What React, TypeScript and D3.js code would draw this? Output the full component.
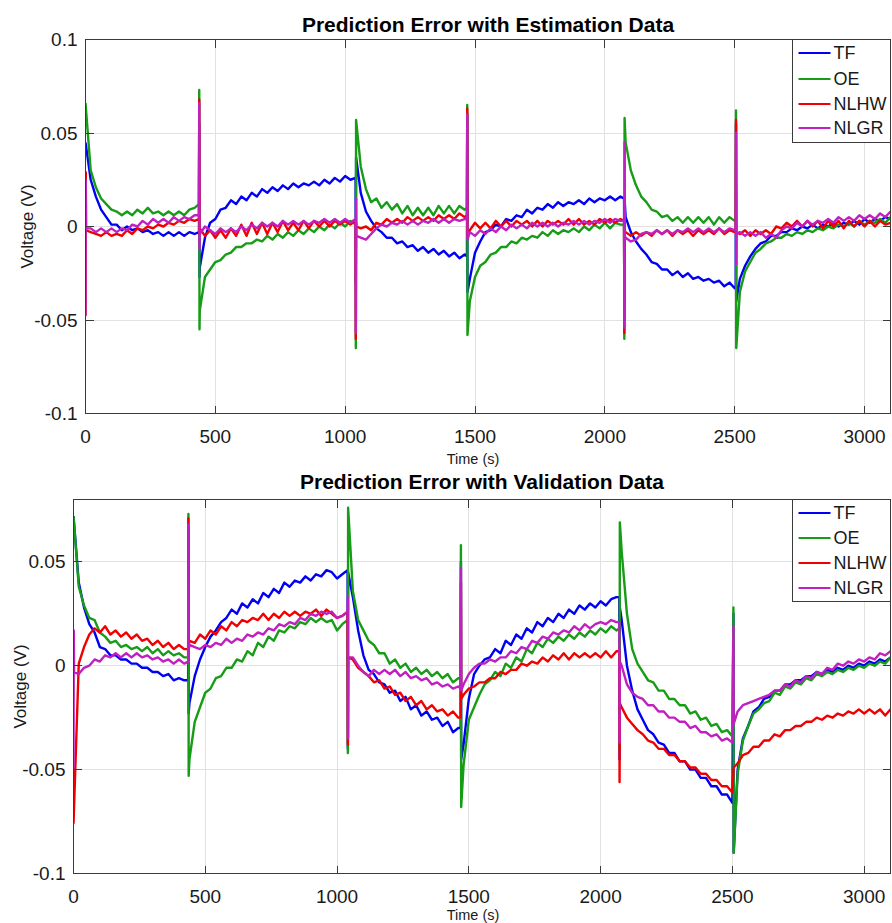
import React from "react";
import * as d3 from "d3";

const FONT = "'Liberation Sans', Arial, Helvetica, sans-serif";

// ---------- shared labels / ticks ----------
const seriesNames = ["TF", "OE", "NLHW", "NLGR"];
const seriesColors = ["#0000f5", "#169c16", "#f00000", "#c020c0"];
const xTicks = [0, 500, 1000, 1500, 2000, 2500, 3000];
const xDomain = [0, 3100];
const estYDomain = [-0.1, 0.1];
const estYTicks = [-0.1, -0.05, 0, 0.05, 0.1];
const estYTickLabels = ["-0.1", "-0.05", "0", "0.05", "0.1"];
const valYDomain = [-0.1, 0.08];
const valYTicks = [-0.1, -0.05, 0, 0.05];
const valYTickLabels = ["-0.1", "-0.05", "0", "0.05"];

// sampling step of the grid arrays below (seconds); values are in mV
const T_STEP = 20;

// ---------- Estimation data (mV, every 20 s from 0 to 3100) ----------
const estTF = [
  45, 25, 16, 9, 5, 1, 1, -2, 0, -2,
  -1, -3, -2, -4, -3, -5, -3, -5, -3, -5,
  -3, -4, -22, -6, 2, 4, 9, 10, 14, 12,
  16, 14, 18, 16, 20, 18, 21, 19, 22, 20,
  23, 21, 23, 22, 24, 22, 25, 23, 26, 24,
  27, 25, 26, 18, 8, 3, -1, -3, -6, -6,
  -9, -8, -11, -10, -13, -11, -14, -12, -15, -13,
  -16, -14, -17, -15, -28, -14, -8, -3, -2, 1,
  0, 4, 3, 6, 5, 9, 7, 10, 9, 12,
  10, 13, 11, 13, 12, 14, 12, 15, 13, 15,
  14, 16, 14, 16, 5, -3, -8, -12, -15, -19,
  -20, -23, -23, -26, -24, -27, -25, -28, -27, -29,
  -28, -30, -29, -32, -30, -33, -28, -21, -16, -12,
  -9, -8, -5, -5, -3, -3, -1, -2, 0, -1,
  1, -1, 1, 0, 2, 0, 2, 1, 3, 1,
  4, 2, 4, 3, 5, 4,
];
const estOE = [
  66, 30, 21, 15, 12, 9, 8, 6, 8, 6,
  9, 7, 10, 7, 8, 6, 8, 6, 8, 6,
  9, 10, -45, -27, -23, -19, -18, -15, -14, -11,
  -11, -9, -9, -7, -8, -5, -7, -4, -6, -3,
  -5, -2, -4, -1, -3, 0, -2, 1, -1, 2,
  0, 3, 1, 32, 20, 13, 15, 10, 13, 9,
  12, 7, 11, 6, 10, 6, 10, 6, 11, 7,
  11, 7, 11, 9, -40, -27, -21, -19, -15, -14,
  -11, -11, -8, -9, -6, -7, -5, -6, -3, -5,
  -2, -4, -2, -3, -1, -3, 0, -2, 1, -1,
  2, -1, 2, 1, 45, 30, 22, 16, 13, 9,
  8, 5, 6, 3, 5, 2, 5, 2, 5, 2,
  5, 1, 5, 2, 5, 3, -35, -24, -19, -14,
  -12, -9, -8, -6, -6, -4, -5, -3, -4, -2,
  -3, -1, -2, 0, -1, 1, 0, 2, 0, 3,
  1, 3, 2, 4, 2, 5,
];
const estNLHW = [
  -48, -3, -4, -5, -3, -5, -4, -5, -2, -4,
  -1, -2, 0, -1, 1, 0, 2, 1, 3, 2,
  4, 3, -1, -5, -2, -6, -2, -6, -1, -5,
  1, -5, 2, -4, 2, -4, 2, -3, 3, -2,
  2, -2, 3, -1, 3, 0, 3, 0, 3, 1,
  3, 1, 3, -1, 0, -2, 2, 1, 4, 2,
  4, 2, 5, 3, 5, 3, 5, 3, 6, 4,
  6, 4, 7, 5, -2, 2, -1, 2, -1, 3,
  0, 3, 0, 3, 1, 3, 0, 3, 0, 3,
  1, 3, 1, 4, 1, 4, 1, 3, 1, 4,
  2, 4, 2, 4, -3, -5, -3, -5, -3, -5,
  -2, -4, -2, -5, -2, -4, -2, -5, -2, -4,
  -2, -4, -1, -4, -2, -3, -4, -2, -5, -2,
  -4, -2, -4, 0, -1, 2, 0, 3, 0, 3,
  0, 3, -1, 3, 0, 3, -1, 3, 0, 3,
  0, 3, 0, 3, 1, 2,
];
const estNLGR = [
  -47, -1, -3, -1, -3, -1, -3, -1, -2, 1,
  0, 3, 1, 4, 2, 4, 2, 5, 3, 5,
  4, 6, -3, 0, -2, -4, -1, -3, -1, -3,
  0, -2, 1, -1, 2, 0, 2, 0, 3, 1,
  3, 1, 3, 1, 3, 2, 4, 2, 4, 2,
  4, 2, 4, -6, -7, -4, -1, 1, 0, 2,
  1, 3, 1, 3, 1, 3, 2, 4, 2, 4,
  2, 4, 3, 4, -3, -5, -2, -4, -1, -3,
  0, -2, 1, -1, 1, -1, 2, 0, 2, 0,
  2, 0, 2, 1, 3, 1, 3, 1, 3, 2,
  4, 2, 4, 3, -6, -8, -7, -4, -3, -4,
  -2, -4, -2, -4, -2, -3, -1, -3, -1, -3,
  -1, -3, -1, -3, -1, -2, -3, -5, -3, -5,
  -3, -6, -4, -6, -2, 0, -1, 2, 0, 3,
  1, 3, 2, 4, 2, 5, 3, 5, 3, 6,
  4, 6, 4, 7, 5, 8,
];
// values around the switching instants: [time s, mV] (level just before, peak(s), level just after)
const estTFSpikes = [
  [437, -3], [438, 55], [439, -27],
  [1041, -30], [1042, 37],
  [1469, -16], [1470, 60], [1471, -35],
  [2074, 15], [2075, -50], [2076, 15],
  [2504, -33], [2505, 55], [2506, -40],
];
const estOESpikes = [
  [437, 12], [438, 73], [439, -55],
  [1041, -65], [1042, 57],
  [1469, 10], [1470, 65], [1471, -58],
  [2074, 1], [2075, -60], [2076, 58],
  [2504, 3], [2505, 62], [2506, -65],
];
const estNLHWSpikes = [
  [1, 29], [2, -2],
  [437, 4], [438, 68], [439, -4],
  [1041, -60], [1042, 2], [1043, 0],
  [1469, 6], [1470, 63], [1471, -5],
  [2074, 3], [2075, -57], [2076, -2],
  [2504, -3], [2505, 57], [2506, -3],
];
const estNLGRSpikes = [
  [1, 25], [2, -1],
  [437, 6], [438, 66], [439, -12], [440, -4],
  [1041, -57], [1042, 15], [1043, -5],
  [1469, 4], [1470, 60], [1471, -7],
  [2074, 3], [2075, -54], [2076, 45], [2077, -5],
  [2504, -2], [2505, 50], [2506, -20], [2507, -4],
];

// ---------- Validation data (mV, every 20 s from 0 to 3100) ----------
const valTF = [
  72, 40, 28, 20, 16, 9, 8, 5, 5, 3,
  3, 1, 1, -1, -1, -3, -3, -5, -4, -7,
  -6, -7, -18, -5, 3, 9, 14, 17, 21, 23,
  27, 25, 30, 28, 32, 30, 35, 33, 37, 35,
  40, 38, 41, 40, 43, 41, 44, 43, 46, 45,
  42, 44, 46, 33, 17, 5, -2, -4, -8, -9,
  -13, -12, -17, -15, -21, -19, -24, -22, -26, -25,
  -29, -27, -32, -30, -38, -16, -4, 0, 3, 4,
  8, 6, 12, 10, 15, 13, 18, 16, 21, 19,
  23, 21, 25, 23, 27, 25, 29, 27, 30, 28,
  31, 29, 32, 33, 22, 0, -12, -21, -26, -31,
  -33, -37, -38, -42, -42, -46, -46, -50, -50, -54,
  -54, -58, -58, -62, -62, -66, -50, -35, -29, -22,
  -20, -16, -15, -12, -12, -9, -9, -7, -7, -5,
  -5, -3, -4, -2, -3, -1, -2, 0, -1, 1,
  0, 2, 1, 3, 2, 4,
];
const valOE = [
  72, 38, 29, 23, 22, 16, 14, 11, 12, 9,
  10, 8, 9, 7, 9, 6, 8, 5, 7, 5,
  6, 4, -45, -27, -20, -13, -11, -6, -5, -1,
  -1, 3, 2, 7, 5, 11, 9, 14, 12, 17,
  16, 19, 18, 21, 20, 23, 21, 23, 21, 22,
  17, 20, 22, 36, 22, 17, 12, 10, 6, 6,
  1, 3, -1, 1, -3, -1, -4, -2, -5, -3,
  -6, -4, -8, -6, -48, -26, -20, -14, -9, -7,
  -3, -5, 1, -1, 4, 2, 8, 6, 11, 9,
  13, 11, 14, 12, 15, 13, 16, 14, 17, 15,
  18, 16, 19, 17, 55, 25, 8, 1, -3, -7,
  -8, -12, -12, -16, -16, -19, -19, -23, -22, -26,
  -25, -29, -28, -32, -31, -34, -52, -36, -29, -23,
  -21, -18, -17, -13, -14, -10, -11, -8, -9, -6,
  -7, -4, -5, -3, -4, -2, -3, -1, -2, 0,
  -1, 1, 0, 2, 1, 4,
];
const valNLHW = [
  -76, 1, 9, 15, 18, 16, 19, 15, 17, 14,
  16, 13, 15, 12, 13, 10, 12, 9, 11, 8,
  10, 8, 12, 11, 15, 13, 17, 15, 19, 17,
  21, 19, 22, 21, 23, 22, 25, 22, 25, 23,
  26, 24, 26, 24, 26, 25, 27, 24, 27, 25,
  23, 24, 26, 3, -1, -3, -5, -8, -7, -11,
  -10, -14, -13, -17, -15, -19, -17, -21, -19, -22,
  -21, -24, -22, -25, -14, -11, -10, -8, -8, -6,
  -6, -3, -4, -2, -2, 1, 0, 2, 1, 4,
  2, 5, 3, 6, 3, 6, 4, 6, 4, 6,
  4, 7, 4, 7, -20, -25, -28, -31, -33, -36,
  -37, -40, -40, -43, -43, -46, -46, -49, -49, -52,
  -52, -55, -55, -58, -58, -61, -47, -43, -42, -39,
  -39, -36, -36, -33, -34, -31, -31, -29, -29, -27,
  -27, -25, -26, -24, -25, -23, -24, -22, -23, -21,
  -23, -21, -23, -21, -24, -21,
];
const valNLGR = [
  -50, -4, -1, 0, 3, 2, 5, 4, 6, 4,
  6, 4, 6, 4, 5, 3, 4, 2, 3, 1,
  3, 1, 10, 9, 8, 10, 9, 11, 10, 13,
  11, 13, 12, 15, 14, 16, 15, 18, 17, 20,
  19, 21, 20, 23, 22, 25, 24, 26, 25, 26,
  23, 24, 26, 4, 0, -3, -5, -2, -4, -2,
  -4, -2, -5, -3, -6, -5, -7, -6, -9, -8,
  -10, -9, -11, -10, -9, -4, -1, 1, 1, 3,
  2, 4, 4, 7, 6, 9, 8, 12, 11, 14,
  13, 16, 15, 17, 16, 19, 17, 20, 18, 20,
  21, 20, 22, 21, 0, -9, -13, -15, -16, -19,
  -19, -22, -22, -25, -25, -27, -27, -30, -29, -32,
  -32, -34, -33, -36, -35, -37, -22, -19, -18, -17,
  -16, -15, -14, -12, -12, -9, -10, -7, -8, -5,
  -6, -3, -4, -1, -2, 1, 0, 2, 1, 3,
  2, 4, 3, 6, 5, 7,
];
const valTFSpikes = [
  [435, -7], [436, 65], [437, -23],
  [1041, -40], [1042, 45],
  [1469, -30], [1470, 50], [1471, -45],
  [2071, 33], [2072, -45], [2073, 28],
  [2504, 25], [2505, -90],
];
const valOESpikes = [
  [435, 4], [436, 73], [437, -53],
  [1041, -42], [1042, 76],
  [1469, -6], [1470, 58], [1471, -68],
  [2071, 18], [2072, -40], [2073, 69],
  [2504, 28], [2505, -90],
];
const valNLHWSpikes = [
  [435, 8], [436, 71], [437, 10],
  [1041, -38], [1042, 4],
  [1469, -25], [1470, 40], [1471, -16],
  [2071, 7], [2072, -56], [2073, -18],
  [2505, -49],
];
const valNLGRSpikes = [
  [1, 17], [2, -3],
  [435, 2], [436, 68], [437, 8],
  [1041, 33], [1042, -35], [1043, 4],
  [1469, -11], [1470, 47], [1471, -12],
  [2071, 21], [2072, -37], [2073, 2],
  [2504, 19], [2505, -28],
];

function buildSeries(grid: number[], spikes: number[][]): [number, number][] {
  const pts: [number, number][] = grid.map((v, i) => [i * T_STEP, v / 1000]);
  spikes.forEach(([t, v]) => pts.push([t, v / 1000]));
  pts.sort((a, b) => a[0] - b[0]);
  return pts;
}

type Box = { left: number; top: number; right: number; bottom: number };

function Panel(props: {
  id: string;
  box: Box;
  yDomain: number[];
  yTicks: number[];
  yTickLabels: string[];
  title: string;
  titleY: number;
  xLabelX: number;
  xLabelY: number;
  yLabelX: number;
  series: [number, number][][];
  legendLeft: number;
  legendHeight: number;
  legendRows: number[];
}) {
  const { id, box, yDomain, yTicks, yTickLabels, title, titleY, xLabelX, xLabelY, yLabelX, series, legendLeft, legendHeight, legendRows } = props;
  const x = d3.scaleLinear().domain(xDomain).range([box.left, box.right]);
  const y = d3.scaleLinear().domain(yDomain).range([box.bottom, box.top]);
  const line = d3
    .line<[number, number]>()
    .x((d) => x(d[0]))
    .y((d) => y(d[1]));
  const tickLen = 8;
  const axisColor = "#3a3a3a";
  const gridColor = "#e2e2e2";
  const cx = (box.left + box.right) / 2;
  const cy = (box.top + box.bottom) / 2;
  return (
    <g>
      <defs>
        <clipPath id={id}>
          <rect x={box.left} y={box.top - 2} width={box.right - box.left} height={box.bottom - box.top + 4} />
        </clipPath>
      </defs>
      <rect x={box.left} y={box.top} width={box.right - box.left} height={box.bottom - box.top} fill="#fff" />
      <g shapeRendering="crispEdges">
        {xTicks
          .filter((t) => t > xDomain[0])
          .map((t) => (
            <line key={"gx" + t} x1={x(t)} x2={x(t)} y1={box.top} y2={box.bottom} stroke={gridColor} strokeWidth={1} />
          ))}
        {yTicks
          .filter((t) => t > yDomain[0] && t < yDomain[1])
          .map((t) => (
            <line key={"gy" + t} x1={box.left} x2={box.right} y1={y(t)} y2={y(t)} stroke={gridColor} strokeWidth={1} />
          ))}
      </g>
      <g clipPath={`url(#${id})`}>
        {series.map((s, i) => (
          <path
            key={i}
            d={line(s) || ""}
            fill="none"
            stroke={seriesColors[i]}
            strokeWidth={2.4}
            strokeLinejoin="round"
          />
        ))}
      </g>
      <g shapeRendering="crispEdges" stroke={axisColor} strokeWidth={1}>
        <rect x={box.left} y={box.top} width={box.right - box.left} height={box.bottom - box.top} fill="none" />
        {xTicks.map((t) => (
          <g key={"tx" + t}>
            <line x1={x(t)} x2={x(t)} y1={box.bottom} y2={box.bottom - tickLen} />
            <line x1={x(t)} x2={x(t)} y1={box.top} y2={box.top + tickLen} />
          </g>
        ))}
        {yTicks.map((t) => (
          <g key={"ty" + t}>
            <line x1={box.left} x2={box.left + tickLen} y1={y(t)} y2={y(t)} />
            <line x1={box.right} x2={box.right - tickLen} y1={y(t)} y2={y(t)} />
          </g>
        ))}
      </g>
      <g fontFamily={FONT} fontSize={19} fill="#1a1a1a">
        {xTicks.map((t) => (
          <text key={"lx" + t} x={x(t)} y={box.bottom + 29} textAnchor="middle">
            {String(t)}
          </text>
        ))}
        {yTicks.map((t, i) => (
          <text key={"ly" + t} x={box.left - 8} y={y(t)} textAnchor="end" dominantBaseline="central">
            {yTickLabels[i]}
          </text>
        ))}
      </g>
      <text x={cx} y={titleY} textAnchor="middle" fontFamily={FONT} fontSize={21} fontWeight="bold" fill="#000">
        {title}
      </text>
      <text x={xLabelX} y={xLabelY} textAnchor="middle" fontFamily={FONT} fontSize={14.5} fill="#1a1a1a">
        Time (s)
      </text>
      <text
        transform={`translate(${yLabelX},${cy}) rotate(-90)`}
        textAnchor="middle"
        dominantBaseline="central"
        fontFamily={FONT}
        fontSize={17}
        fill="#1a1a1a"
      >
        Voltage (V)
      </text>
      <rect
        x={legendLeft}
        y={box.top}
        width={box.right - legendLeft}
        height={legendHeight}
        fill="#fff"
        stroke={axisColor}
        strokeWidth={1}
        shapeRendering="crispEdges"
      />
      {seriesNames.map((name, i) => (
        <g key={name}>
          <line x1={legendLeft + 6} x2={legendLeft + 38} y1={legendRows[i]} y2={legendRows[i]} stroke={seriesColors[i]} strokeWidth={2.1} />
          <text x={legendLeft + 41} y={legendRows[i]} dominantBaseline="central" fontFamily={FONT} fontSize={18} fill="#1a1a1a">
            {name}
          </text>
        </g>
      ))}
    </g>
  );
}

export default function App() {
  const estSeries = [
    buildSeries(estTF, estTFSpikes),
    buildSeries(estOE, estOESpikes),
    buildSeries(estNLHW, estNLHWSpikes),
    buildSeries(estNLGR, estNLGRSpikes),
  ];
  const valSeries = [
    buildSeries(valTF, valTFSpikes),
    buildSeries(valOE, valOESpikes),
    buildSeries(valNLHW, valNLHWSpikes),
    buildSeries(valNLGR, valNLGRSpikes),
  ];
  return (
    <svg
      width={892}
      height={923}
      viewBox="0 0 892 923"
      style={{ position: "absolute", left: 0, top: 0, background: "#fff" }}
    >
      <rect x={0} y={0} width={892} height={923} fill="#fff" />
      <Panel
        id="clipEst"
        box={{ left: 85.5, top: 39.5, right: 890.5, bottom: 413.5 }}
        yDomain={estYDomain}
        yTicks={estYTicks}
        yTickLabels={estYTickLabels}
        title="Prediction Error with Estimation Data"
        titleY={32}
        xLabelX={473}
        xLabelY={464}
        yLabelX={27}
        series={estSeries}
        legendLeft={792.5}
        legendHeight={103}
        legendRows={[53, 79, 104, 128]}
      />
      <Panel
        id="clipVal"
        box={{ left: 73.5, top: 499.5, right: 890.5, bottom: 873.5 }}
        yDomain={valYDomain}
        yTicks={valYTicks}
        yTickLabels={valYTickLabels}
        title="Prediction Error with Validation Data"
        titleY={489}
        xLabelX={473}
        xLabelY={920}
        yLabelX={20}
        series={valSeries}
        legendLeft={792.5}
        legendHeight={102}
        legendRows={[513, 538, 563, 588]}
      />
    </svg>
  );
}
